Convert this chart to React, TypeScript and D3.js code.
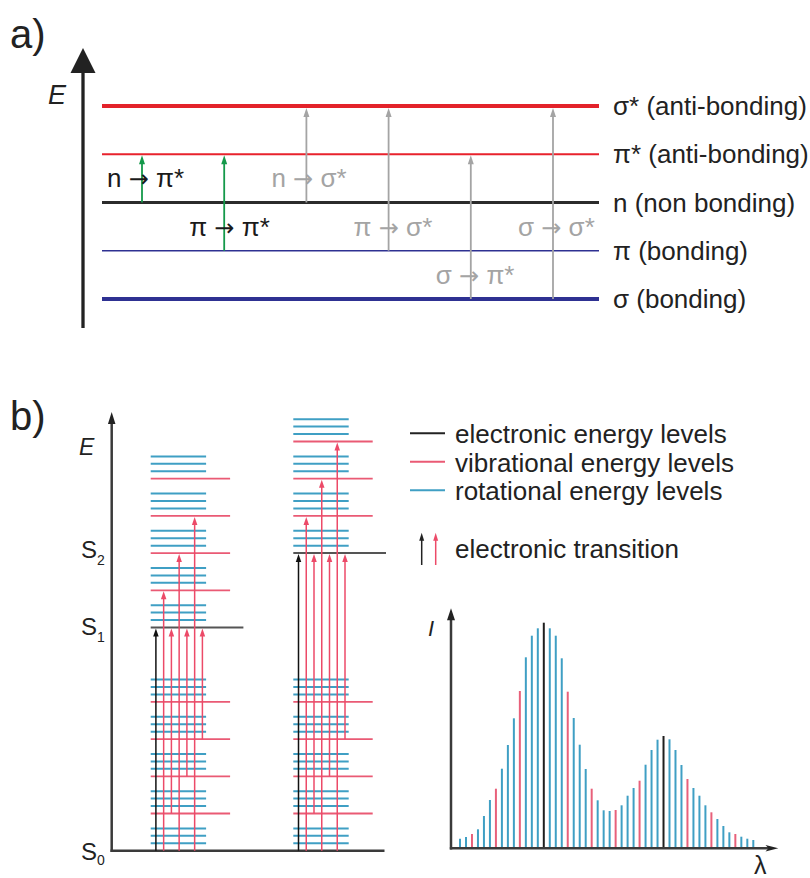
import React from "react";
import * as d3 from "d3";

// ---------- Part a data ----------
const orbitalLabels = ["σ (bonding)", "π (bonding)", "n (non bonding)", "π* (anti-bonding)", "σ* (anti-bonding)"];
const orbitalEnergy = [0, 1, 2, 3, 4];

const transitionLabels = ["n → π*", "π → π*", "n → σ*", "π → σ*", "σ → π*", "σ → σ*"];
const transitionFrom = [2, 1, 2, 1, 0, 0];
const transitionTo = [3, 3, 4, 4, 3, 4];
const transitionLabelGap = [2.5, 1.5, 2.5, 1.5, 0.5, 1.5];
const transitionAllowed = [true, true, false, false, false, false];

// ---------- Part b data ----------
const groundVib = [1, 2, 3, 4];
const excitedNames = ["S1", "S2"];
const excitedEnergy = [6, 8];
const excitedVib = [[1, 2, 3, 4], [1, 2, 3]];
const rotOffsets = [0.2, 0.4, 0.6];
const vibTransFrom = [0, 0, 1, 0, 2, 0, 3];
const vibTransTo = [0, 1, 0, 2, 0, 3, 0];

const legendLabels = ["electronic energy levels", "vibrational energy levels", "rotational energy levels"];
const legendTransition = "electronic transition";

// spectrum intensities (arbitrary units)
const spectrum = [
  9.6, 11.3, 14.3, 19, 32.3, 48.3, 59.6, 79.6, 103.3, 130,
  157.3, 191, 212.6, 220, 225.6, 220, 212.6, 190, 156.6, 130.3,
  103.6, 79.3, 59.6, 48, 38, 37.3, 38.3, 43, 52.6, 60.3,
  67.6, 83.6, 98.3, 108.6, 112.3, 109, 98.3, 83.3, 69.3, 60.3,
  52.6, 43, 36, 29.3, 22.3, 16, 14.3, 11.6, 9.6, 8.3,
];
const spectrumVibIdx = [2, 6, 10, 18, 22, 26, 30, 38, 42, 46];
const spectrumElecIdx = [14, 34];

// ---------- styles ----------
const FONT = "'Liberation Sans', Arial, Helvetica, sans-serif";
const VIB = "#ea5a74";
const ROT = "#3f9fc4";
const ARROW_RED = "#ec4a68";
const GREEN = "#14994a";
const GRAY = "#a4a4a4";
const DARK = "#3a3a3a";

const orbitalColor = ["#2e3192", "#2e3192", "#2b2b2b", "#e8222c", "#e3222a"];
const orbitalWidth = [4, 1.6, 3, 2, 4];

function head(x: number, tipY: number, w: number, l: number) {
  return `M${x},${tipY} L${x - w / 2},${tipY + l} L${x + w / 2},${tipY + l} Z`;
}

export default function App() {
  // Part a scales
  const yA = d3.scaleLinear().domain([0, 4]).range([299, 106]);
  const xArrowA = d3.scaleLinear().domain([0, 5]).range([142, 553]);
  const lineX0 = 102, lineX1 = 599;

  // Part b scales
  const yB = d3.scaleLinear().domain([0, 8]).range([850.7, 553.1]);
  const ladderX = d3.scaleLinear().domain([0, 1]).range([150.7, 293.3]);
  const rotLen = 55.4, vibLen = 79.4, elecLen = 92.7;

  // spectrum scales
  const xS = d3.scaleLinear().domain([0, 49]).range([460, 753.3]);
  const yS = d3.scaleLinear().domain([0, 225.6]).range([848.3, 622.7]);

  const legendY = d3.scaleLinear().domain([0, 1]).range([443.3, 471.8]);
  const legendColors = ["#222", VIB, ROT];

  return (
    <svg width={810} height={878} style={{ position: "absolute", left: 0, top: 0, background: "#fff" }} fontFamily={FONT}>
      {/* ================= Part a ================= */}
      <text x={10} y={48} fontSize={40} fill="#222">a)</text>
      <line x1={83} y1={328} x2={83} y2={70} stroke="#222" strokeWidth={3.3} />
      <path d={head(83, 48, 25, 25)} fill="#222" />
      <text x={48} y={104} fontSize={27} fontStyle="italic" fill="#222">E</text>

      {orbitalEnergy.map((e, i) => (
        <g key={"orb" + i}>
          <line x1={lineX0} x2={lineX1} y1={yA(e)} y2={yA(e)} stroke={orbitalColor[i]} strokeWidth={orbitalWidth[i]} />
          <text x={613} y={yA(e) + 9} fontSize={26} fill="#222">{orbitalLabels[i]}</text>
        </g>
      ))}

      {transitionLabels.map((lab, i) => {
        const x = xArrowA(i);
        const col = transitionAllowed[i] ? GREEN : GRAY;
        const y0 = yA(transitionFrom[i]);
        const y1 = yA(transitionTo[i]) + (transitionTo[i] === 4 ? 2 : 1);
        const [fromS, toS] = lab.split(" → ");
        return (
          <g key={"tr" + i}>
            <line x1={x} x2={x} y1={y0} y2={y1 + 5} stroke={col} strokeWidth={1.8} />
            <path d={head(x, y1, 6, 9)} fill={col} />
            <text x={x - 35} y={yA(transitionLabelGap[i]) + 9} fontSize={26} fill={transitionAllowed[i] ? "#1a1a1a" : GRAY}>
              {fromS + " "}
              <tspan fontFamily="'DejaVu Sans', sans-serif" fontSize={24}>→</tspan>
              {" " + toS}
            </text>
          </g>
        );
      })}

      {/* ================= Part b ================= */}
      <text x={10} y={430} fontSize={40} fill="#222">b)</text>
      <line x1={111.7} y1={852} x2={111.7} y2={420} stroke={DARK} strokeWidth={2.5} />
      <path d={head(111.7, 412, 7.5, 12)} fill="#222" />
      <line x1={110.5} y1={850.7} x2={384.5} y2={850.7} stroke={DARK} strokeWidth={2.5} />
      <text x={79} y={455} fontSize={23} fontStyle="italic" fill="#222">E</text>

      {/* state labels */}
      <text x={81} y={860} fontSize={24} fill="#222">S<tspan fontSize={14} dy={5}>0</tspan></text>
      {excitedNames.map((n, k) => (
        <text key={n} x={81} y={yB(excitedEnergy[k]) + (k === 0 ? 7 : 5)} fontSize={24} fill="#222">
          S<tspan fontSize={14} dy={7}>{n.slice(1)}</tspan>
        </text>
      ))}

      {excitedEnergy.map((E, k) => {
        const x0 = ladderX(k);
        const groundV = [0, ...groundVib];
        const upV = [0, ...excitedVib[k]];
        return (
          <g key={"lad" + k}>
            {groundV.map((v) =>
              rotOffsets.map((r) => (
                <line key={`gr${v}-${r}`} x1={x0} x2={x0 + rotLen} y1={yB(v + r)} y2={yB(v + r)} stroke={ROT} strokeWidth={2} />
              ))
            )}
            {groundVib.map((v) => (
              <line key={`gv${v}`} x1={x0} x2={x0 + vibLen} y1={yB(v)} y2={yB(v)} stroke={VIB} strokeWidth={1.8} />
            ))}
            {upV.map((v) =>
              rotOffsets.map((r) => (
                <line key={`ur${v}-${r}`} x1={x0} x2={x0 + rotLen} y1={yB(E + v + r)} y2={yB(E + v + r)} stroke={ROT} strokeWidth={2} />
              ))
            )}
            {excitedVib[k].map((v) => (
              <line key={`uv${v}`} x1={x0} x2={x0 + vibLen} y1={yB(E + v)} y2={yB(E + v)} stroke={VIB} strokeWidth={1.8} />
            ))}
            <line x1={x0} x2={x0 + elecLen} y1={yB(E)} y2={yB(E)} stroke="#555" strokeWidth={2} />

            {vibTransFrom.map((f, j) => {
              const x = x0 + 5.2 + 7.75 * j;
              const col = j === 0 ? "#111" : ARROW_RED;
              const yTop = yB(E + vibTransTo[j]) + 1;
              return (
                <g key={`t${j}`}>
                  <line x1={x} x2={x} y1={yB(f)} y2={yTop + 5} stroke={col} strokeWidth={1.5} />
                  <path d={head(x, yTop, 5.5, 8)} fill={col} />
                </g>
              );
            })}
          </g>
        );
      })}

      {/* legend */}
      {legendLabels.map((lab, i) => (
        <g key={"lg" + i}>
          <line x1={410} x2={445} y1={legendY(i) - 10} y2={legendY(i) - 10} stroke={legendColors[i]} strokeWidth={2} />
          <text x={455} y={legendY(i)} fontSize={26} fill="#222">{lab}</text>
        </g>
      ))}
      <line x1={421.7} x2={421.7} y1={565} y2={537} stroke="#222" strokeWidth={1.5} />
      <path d={head(421.7, 532.7, 5, 8)} fill="#222" />
      <line x1={435.7} x2={435.7} y1={565} y2={537} stroke={ARROW_RED} strokeWidth={1.5} />
      <path d={head(435.7, 532.7, 5, 8)} fill={ARROW_RED} />
      <text x={455} y={557.7} fontSize={26} fill="#222">{legendTransition}</text>

      {/* spectrum */}
      {spectrum.map((v, i) => {
        const col = spectrumElecIdx.includes(i) ? "#1e1e1e" : spectrumVibIdx.includes(i) ? "#e8607a" : ROT;
        return <line key={"sp" + i} x1={xS(i)} x2={xS(i)} y1={yS(0)} y2={yS(v)} stroke={col} strokeWidth={2} />;
      })}
      <line x1={451} x2={451} y1={849.5} y2={616} stroke={DARK} strokeWidth={2.5} />
      <path d={head(451, 608.3, 8, 12)} fill="#222" />
      <line x1={449.8} x2={770} y1={848.3} y2={848.3} stroke={DARK} strokeWidth={2.5} />
      <path d="M778.3,848.3 L765.5,845 L768.5,848.3 L765.5,851.6 Z" fill="#222" />
      <text x={428} y={636} fontSize={22} fontStyle="italic" fill="#222">I</text>
      <text x={754} y={874} fontSize={25} fill="#222">λ</text>
    </svg>
  );
}
